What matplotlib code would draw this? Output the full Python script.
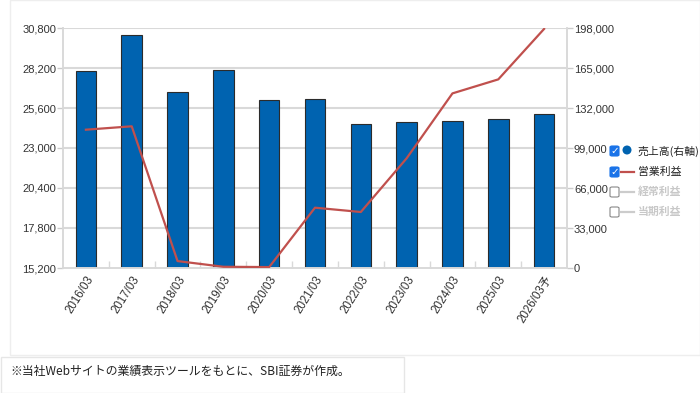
import matplotlib
matplotlib.use("Agg")
import matplotlib.pyplot as plt
from matplotlib.patches import Rectangle, FancyBboxPatch, Ellipse
from matplotlib.lines import Line2D
import numpy as np

plt.rcParams['font.family'] = ['Liberation Sans', 'DejaVu Sans', 'Noto Sans CJK JP']

categories = ["2016/03", "2017/03", "2018/03", "2019/03", "2020/03", "2021/03",
              "2022/03", "2023/03", "2024/03", "2025/03", "2026/03予"]
sales = [162500, 192500, 145500, 163600, 138600, 139400, 119100, 120200, 121300, 123200, 126800]
op_profit = [24190, 24410, 15650, 15280, 15260, 19120, 18840, 22330, 26550, 27460, 30740]
left_ticks = [15200, 17800, 20400, 23000, 25600, 28200, 30800]
right_ticks = [0, 33000, 66000, 99000, 132000, 165000, 198000]
legend_labels = ["売上高(右軸)", "営業利益", "経常利益", "当期利益"]
footnote = "※当社Webサイトの業績表示ツールをもとに、SBI証券が作成。"

W, H = 700, 393
fig = plt.figure(figsize=(W / 100, H / 100), dpi=100)
fig.patch.set_facecolor("white")

def fx(px):
    return px / W

def fy(py):
    return 1 - py / H

# outer frames
fig.add_artist(Rectangle((fx(10), fy(355)), fx(700) - fx(10), fy(0) - fy(355),
                         transform=fig.transFigure, fill=False, edgecolor="#eeeeee", lw=1))
fig.add_artist(Rectangle((fx(0.5), fy(392.5)), fx(403), fy(357) - fy(392.5),
                         transform=fig.transFigure, fill=False, edgecolor="#e6e6e6", lw=1))
fig.text(fx(10), fy(371), footnote, fontsize=8.6, family=['Noto Sans CJK JP'],
         va="center", ha="left", color="#222222")

left, right, top, bottom = 63, 567, 28, 268
ax = fig.add_axes([fx(left), fy(bottom), fx(right) - fx(left), fy(top) - fy(bottom)])
ax2 = ax.twinx()

x = np.arange(len(categories))
ax2.bar(x, sales, width=0.45, color="#0063b0", edgecolor="#2b2b2b", linewidth=0.8, zorder=2)
ax2.set_ylim(0, 198000)
ax2.set_yticks(right_ticks)
ax2.set_yticklabels([f"{v:,}" for v in right_ticks])

ax.plot(x, op_profit, color="#c0504d", lw=1.6, zorder=5, clip_on=True)
ax.set_ylim(15200, 30800)
ax.set_yticks(left_ticks)
ax.set_yticklabels([f"{v:,}" for v in left_ticks])
ax.set_xlim(-0.5, len(categories) - 0.5)
ax.set_xticks(x)
ax.set_xticklabels(categories, rotation=58, ha="right", va="top", rotation_mode="anchor",
                   fontsize=8.3, family=['Liberation Sans', 'Noto Sans CJK JP'], color="#333333")
ax.tick_params(axis="x", length=0, pad=4)
ax.set_xticks(np.arange(0.5, len(categories) - 0.5, 1), minor=True)
ax.tick_params(axis="x", which="minor", direction="in", length=5, color="#d9d9d9", width=1)

ax.set_zorder(ax2.get_zorder() + 1)
ax.patch.set_visible(False)
ax2.set_zorder(0)

for a in (ax, ax2):
    a.spines["top"].set_visible(False)
    for s in ("left", "right", "bottom"):
        a.spines[s].set_color("#d9d9d9")
        a.spines[s].set_linewidth(1.2)
    a.tick_params(axis="y", labelsize=8, labelcolor="#333333", color="#cccccc", length=4, width=1, pad=1)

# horizontal grid lines behind bars
for v in right_ticks[1:]:
    ax2.axhline(v, color="#d9d9d9", lw=1.5, zorder=0)

# legend
rows = [151, 172, 192, 212]
checked = [True, True, False, False]
text_colors = ["#222222", "#222222", "#c8c8c8", "#c8c8c8"]
bx = 610
for i, (ry, lab) in enumerate(zip(rows, legend_labels)):
    if checked[i]:
        fig.add_artist(FancyBboxPatch((fx(bx), fy(ry + 5)), fx(9), fy(ry - 5) - fy(ry + 5),
                                      boxstyle="round,pad=0,rounding_size=0.003",
                                      transform=fig.transFigure, facecolor="#1a73e8", edgecolor="#1a73e8", lw=0.8))
        fig.text(fx(bx + 4.5), fy(ry), "✓", color="white", fontsize=7.5, ha="center", va="center",
                 weight="bold", family=['DejaVu Sans'])
    else:
        fig.add_artist(FancyBboxPatch((fx(bx), fy(ry + 5)), fx(9), fy(ry - 5) - fy(ry + 5),
                                      boxstyle="round,pad=0,rounding_size=0.003",
                                      transform=fig.transFigure, facecolor="white", edgecolor="#888888", lw=0.8))
    if i == 0:
        fig.add_artist(Ellipse((fx(bx + 17), fy(ry - 1)), fx(9), 9 / H, transform=fig.transFigure,
                               facecolor="#0063b0", edgecolor="none"))
    else:
        col = "#c0504d" if i == 1 else "#cccccc"
        fig.add_artist(Line2D([fx(bx + 11), fx(bx + 24)], [fy(ry), fy(ry)], transform=fig.transFigure,
                              color=col, lw=1.6))
    fig.text(fx(bx + 28), fy(ry), lab, fontsize=7.8, family=['Noto Sans CJK JP'],
             color=text_colors[i], ha="left", va="center", weight="bold" if i >= 2 else "normal")

fig.savefig("out.png", dpi=100, facecolor="white")
